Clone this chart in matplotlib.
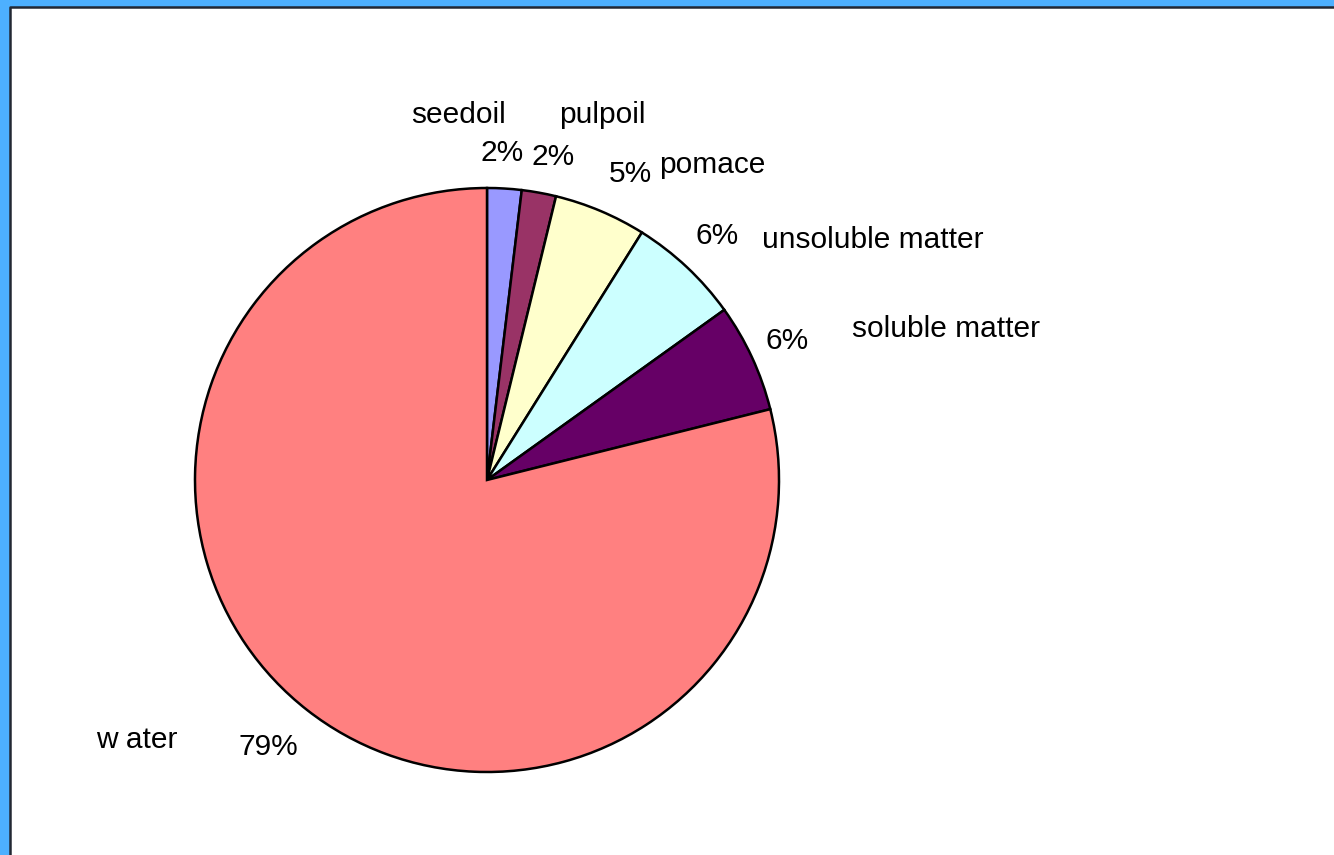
import matplotlib.pyplot as plt
from matplotlib.patches import Rectangle

# 成分データ（時計回り、上から）
labels = ['seedoil', 'pulpoil', 'pomace', 'unsoluble matter', 'soluble matter', 'water']
values = [1.9, 1.9, 5.1, 6.2, 6.0, 78.9]
pct_text = ['2%', '2%', '5%', '6%', '6%', '79%']
colors = ['#9999FF', '#993366', '#FFFFCC', '#CCFFFF', '#660066', '#FF8080']

W, H = 1334, 855
fig = plt.figure(figsize=(W / 100, H / 100), dpi=100)
fig.patch.set_facecolor('#4DB0FF')
plt.rcParams['font.family'] = ['Liberation Sans', 'DejaVu Sans']

ax = fig.add_axes([0, 0, 1, 1])

# 白い描画エリア（左と上に枠線）
ax.add_patch(Rectangle((10, -50), W + 100, H - 7 + 50, facecolor='white',
                       edgecolor='none', zorder=0, clip_on=False))
ax.plot([10, 10, W + 50], [-50, H - 7, H - 7], color='#222833', lw=1.8,
        zorder=1, clip_on=False)

ax.pie(values, colors=colors, startangle=90, counterclock=False,
       center=(487, H - 480), radius=292,
       wedgeprops=dict(edgecolor='black', linewidth=1.8), frame=True)
ax.set_xlim(0, W)
ax.set_ylim(0, H)
ax.axis('off')

# ラベル位置（ピクセル、上から）
name_pos = [(459, 123), (602, 123), (712, 173), (873, 248), (946, 337), (137, 748)]
pct_pos = [(502, 161), (553, 165), (630, 182), (717, 244), (787, 349), (268, 755)]
names_shown = ['seedoil', 'pulpoil', 'pomace', 'unsoluble matter', 'soluble matter', 'w ater']

fs = 21.5
for name, (x, y) in zip(names_shown, name_pos):
    ax.text(x, H - y, name, ha='center', va='baseline', fontsize=fs)
for p, (x, y) in zip(pct_text, pct_pos):
    ax.text(x, H - y, p, ha='center', va='baseline', fontsize=fs)

fig.savefig('out.png', dpi=100, facecolor=fig.get_facecolor())
